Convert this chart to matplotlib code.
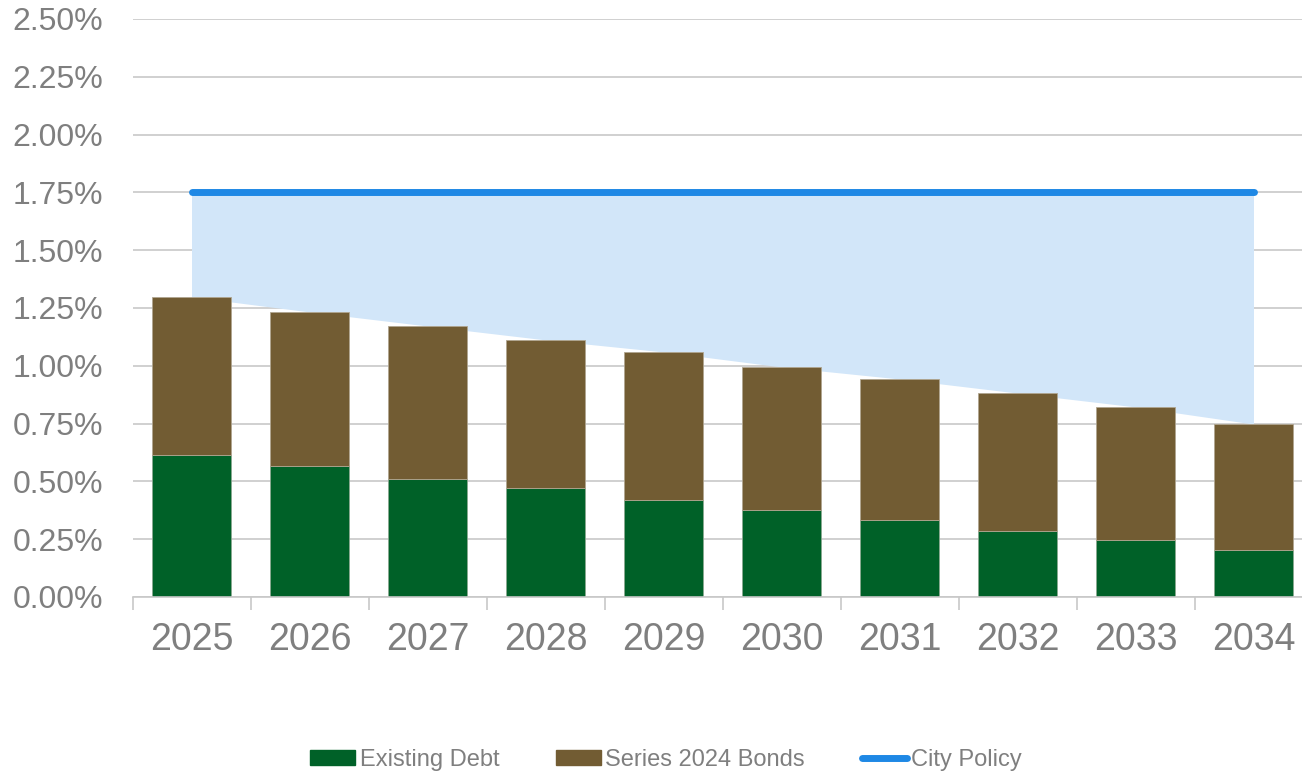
import numpy as np
import matplotlib.pyplot as plt
from matplotlib.patches import Patch
from matplotlib.lines import Line2D

years = ["2025", "2026", "2027", "2028", "2029", "2030", "2031", "2032", "2033", "2034"]
existing_debt = [0.614, 0.567, 0.512, 0.471, 0.420, 0.376, 0.333, 0.285, 0.247, 0.203]
total_burden = [1.298, 1.233, 1.172, 1.112, 1.060, 0.995, 0.943, 0.882, 0.822, 0.748]
series_2024 = [t - e for t, e in zip(total_burden, existing_debt)]
city_policy = [1.75] * len(years)

green = "#006128"
brown = "#725C33"
blue = "#1E88E5"
fill_blue = "#D2E6F9"
grey_text = "#7F7F7F"

plt.rcParams['font.family'] = ['Liberation Sans', 'DejaVu Sans']

fig = plt.figure(figsize=(13.02, 7.75), dpi=100)
ax = fig.add_axes([132.5 / 1302, 178 / 775, 1180 / 1302, 578 / 775])

x = np.arange(len(years))
ax.fill_between(x, total_burden, city_policy, color=fill_blue, lw=0, zorder=1)
ax.bar(x, existing_debt, width=0.67, color=green, edgecolor="#8AA890", linewidth=0.6, zorder=2)
ax.bar(x, series_2024, width=0.67, bottom=existing_debt, color=brown,
       edgecolor="#B0A590", linewidth=0.6, zorder=2)
ax.plot(x, city_policy, color=blue, lw=5, solid_capstyle="round", zorder=3)

ax.set_xlim(-0.5, 9.5)
ax.set_ylim(0, 2.5)
ax.set_yticks(np.arange(0, 2.51, 0.25))
ax.set_yticklabels([f"{v:.2f}%" for v in np.arange(0, 2.51, 0.25)])
ax.set_xticks(x)
ax.set_xticklabels(years)
ax.set_xticks(np.arange(-0.5, 10, 1), minor=True)

ax.grid(axis="y", color="#C8C8C8", lw=1.2, zorder=0)
ax.set_axisbelow(True)
for s in ["top", "right", "left"]:
    ax.spines[s].set_visible(False)
ax.spines["bottom"].set_color("#C8C8C8")
ax.spines["bottom"].set_linewidth(1.2)

ax.tick_params(axis="y", length=0, labelsize=23, labelcolor=grey_text, pad=21)
ax.tick_params(axis="x", which="major", length=0, labelsize=27, labelcolor=grey_text, pad=18)
ax.tick_params(axis="x", which="minor", length=9, color="#C8C8C8", width=1.2)

handles = [Patch(color=green, label="Existing Debt"),
           Patch(color=brown, label="Series 2024 Bonds"),
           Line2D([0], [0], color=blue, lw=5, solid_capstyle="round", label="City Policy")]
fig.legend(handles=handles, loc="center", bbox_to_anchor=(666 / 1302, 1 - 760 / 775),
           ncol=3, frameon=False, labelcolor=grey_text,
           handlelength=1.9, handleheight=0.6, handletextpad=0.2, columnspacing=2.4,
           prop={'family': ['Liberation Sans Narrow', 'Liberation Sans'], 'size': 17})

fig.savefig("out.png", dpi=100)
